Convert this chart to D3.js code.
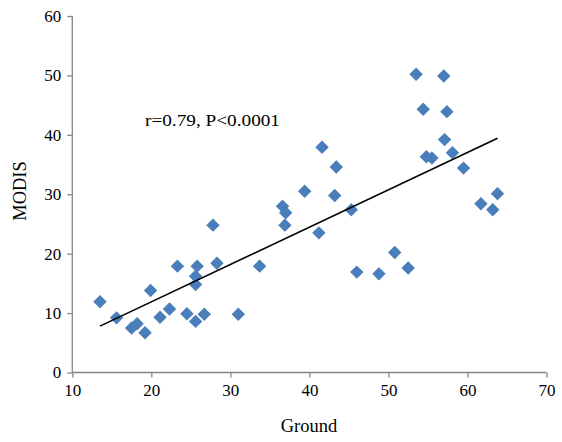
<!DOCTYPE html>
<html>
<head>
<meta charset="utf-8">
<script src="https://cdn.jsdelivr.net/npm/d3@7"></script>
<style>
  body { margin: 0; background: #fff; }
  text { font-family: "Liberation Serif", "Times New Roman", serif; fill: #000; }
</style>
</head>
<body>
<svg width="562" height="442"></svg>
<script>
const ground = [13.5, 15.6, 17.5, 18.2, 19.2, 19.9, 21.1, 22.3, 23.3, 24.5,
  25.6, 25.6, 25.6, 25.8, 26.7, 27.8, 28.3, 31.0, 33.7, 36.6,
  37.0, 36.9, 39.4, 41.6, 43.4, 43.2, 45.3, 41.2, 46.0, 48.8,
  50.8, 52.5, 54.8, 55.5, 57.1, 58.1, 59.5, 61.7, 63.8, 63.2,
  53.5, 57.0, 54.4, 57.4]
const modis = [11.9, 9.2, 7.5, 8.2, 6.7, 13.8, 9.3, 10.7, 17.9, 9.9,
  8.6, 16.2, 14.8, 17.9, 9.8, 24.8, 18.4, 9.8, 17.9, 28.0,
  26.9, 24.8, 30.5, 37.9, 34.6, 29.8, 27.4, 23.5, 16.9, 16.6,
  20.2, 17.6, 36.3, 36.1, 39.2, 37.0, 34.4, 28.4, 30.1, 27.4,
  50.2, 49.9, 44.3, 43.9]
const xTicks = [10, 20, 30, 40, 50, 60, 70]
const yTicks = [0, 10, 20, 30, 40, 50, 60]
const trendSlope = 0.629
const trendIntercept = -0.69
const label = 'r=0.79, P<0.0001'

const svg = d3.select('svg')

const x = d3.scaleLinear().domain([10, 70]).range([72.3, 546.5])
const y = d3.scaleLinear().domain([0, 60]).range([372.5, 16])

const axisColor = '#868686'

const xAxis = svg.append('g')
  .attr('transform', `translate(0,${y(0)})`)
  .call(d3.axisBottom(x).tickValues(xTicks).tickSize(5).tickPadding(6))
const yAxis = svg.append('g')
  .attr('transform', `translate(${x(10)},0)`)
  .call(d3.axisLeft(y).tickValues(yTicks).tickSize(5).tickPadding(6))

for (const g of [xAxis, yAxis]) {
  g.selectAll('path, line').attr('stroke', axisColor).attr('stroke-width', 1.3)
  g.selectAll('text').attr('font-size', 17).attr('font-family', '"Liberation Serif", serif').attr('fill', '#000')
}
yAxis.select('.domain').attr('d', `M0,${y(0)}V${y(60)}`)
xAxis.select('.domain').attr('d', `M${x(10)},0H${x(70)}`)

const data = ground.map((g, i) => [g, modis[i]])

const diamond = d3.symbol().type(d3.symbolSquare).size(90)
svg.append('g').selectAll('path')
  .data(data)
  .join('path')
  .attr('d', diamond)
  .attr('transform', d => `translate(${x(d[0])},${y(d[1])}) rotate(45)`)
  .attr('fill', '#4a7ebb')

const xs = d3.extent(ground)
svg.append('path')
  .datum(xs.map(v => [v, trendIntercept + trendSlope * v]))
  .attr('fill', 'none')
  .attr('stroke', '#000')
  .attr('stroke-width', 1.6)
  .attr('d', d3.line().x(d => x(d[0])).y(d => y(d[1])))

svg.append('text')
  .attr('x', 145).attr('y', 126)
  .attr('font-size', 17)
  .attr('textLength', 135)
  .attr('lengthAdjust', 'spacingAndGlyphs')
  .text(label)

svg.append('text')
  .attr('x', 309).attr('y', 432)
  .attr('text-anchor', 'middle')
  .attr('font-size', 18.5)
  .text('Ground')

svg.append('text')
  .attr('transform', `translate(25.5,191) rotate(-90)`)
  .attr('text-anchor', 'middle')
  .attr('font-size', 18.5)
  .text('MODIS')
</script>
</body>
</html>
